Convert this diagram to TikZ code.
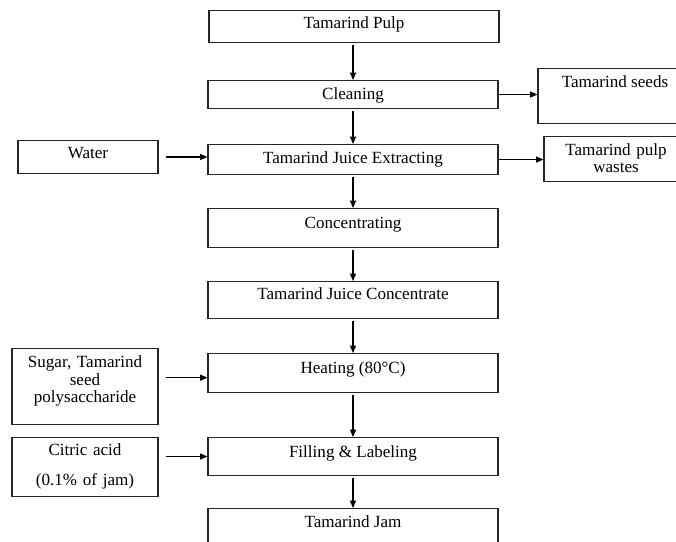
\documentclass[tikz,border=0pt]{standalone}
\usepackage{fontspec}
\setmainfont{Liberation Serif}
\usetikzlibrary{arrows.meta,positioning,calc}

\begin{document}
\begin{tikzpicture}[x=0.75pt,y=-0.75pt,
      b/.style={draw=black!85,line width=0.8pt,inner sep=0pt,anchor=north,
                font=\fontsize{12.8}{13.1}\selectfont,align=center},
      a/.style={-{Triangle[length=5.5pt,width=4.5pt]},line width=0.8pt,shorten <=1.5pt}]
  \useasboundingbox (0,0) rectangle (676,542);
  \node[b,minimum width=217.5pt,text height=13.5pt,text depth=10.5pt] (pulp) at (354,10) {Tamarind Pulp};
  \node[b,minimum width=217.5pt,text height=14.25pt,text depth=6.75pt] (clean) at (353,80) {Cleaning};
  \node[b,minimum width=217.5pt,text height=14.25pt,text depth=8.25pt] (extract) at (353,144) {Tamarind Juice Extracting};
  \node[b,minimum width=217.5pt,text height=15pt,text depth=14.25pt] (conc) at (353,208) {Concentrating};
  \node[b,minimum width=217.5pt,text height=13.5pt,text depth=14.25pt] (juice) at (353,281) {Tamarind Juice Concentrate};
  \node[b,minimum width=217.5pt,text height=15pt,text depth=14.25pt] (heat) at (353,353) {Heating (80°C)};
  \node[b,minimum width=217.5pt,text height=15pt,text depth=13.5pt] (fill) at (353,437) {Filling \& Labeling};
  \node[b,minimum width=217.5pt,text height=14.25pt,text depth=22.5pt] (jam) at (353,508) {Tamarind Jam};

  \node[b,minimum width=115.5pt,text height=14.25pt,text depth=27pt] (seeds) at (615,68) {Tamarind seeds};
  \node[b,minimum width=108pt,text width=100pt,text height=14.25pt,text depth=19.5pt] (waste) at (616,136) {Tamarind pulp\\wastes};
  \node[b,minimum width=105pt,text height=13.5pt,text depth=11.25pt] (water) at (88,140) {Water};
  \node[b,minimum width=109.5pt,text width=105pt,text height=14.25pt,text depth=42.75pt] (sugar) at (85,348) {Sugar, Tamarind\\seed\\polysaccharide};
  \node[b,minimum width=109.5pt,text width=105pt,text height=13.5pt,text depth=30.75pt] (citric) at (85,437) {Citric acid\\[9.4pt](0.1\% of jam)};

  \draw[a] (clean.north |- pulp.south) -- (clean);
  \draw[a] (clean) -- (extract);
  \draw[a] (extract) -- (conc);
  \draw[a] (conc) -- (juice);
  \draw[a] (juice) -- (heat);
  \draw[a] (heat) -- (fill);
  \draw[a] (fill) -- (jam);

  \draw[a,shorten <=0pt] (clean.east) -- (clean.east -| seeds.west);
  \draw[a,shorten <=0pt] (extract.east) -- (extract.east -| waste.west);
  \draw[a,shorten <=5.25pt] (water.east) -- (water.east -| extract.west);
  \coordinate (heatin) at ([yshift=-3.5pt]heat.west);
  \draw[a,shorten <=5.25pt] (sugar.east |- heatin) -- (heatin);
  \draw[a,shorten <=5.25pt] (citric.east |- fill.west) -- (fill.west);
\end{tikzpicture}
\end{document}
